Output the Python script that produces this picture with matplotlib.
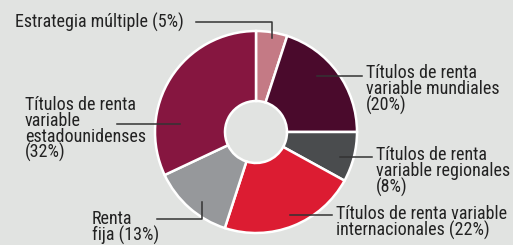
import matplotlib
matplotlib.use("Agg")
import matplotlib.pyplot as plt

plt.rcParams["font.family"] = ["Roboto Condensed", "DejaVu Sans"]

labels = [
    "Estrategia múltiple (5%)",
    "Títulos de renta\nvariable mundiales\n(20%)",
    "Títulos de renta\nvariable regionales\n(8%)",
    "Títulos de renta variable\ninternacionales (22%)",
    "Renta\nfija (13%)",
    "Títulos de renta\nvariable\nestadounidenses\n(32%)",
]
shares = [5, 20, 8, 22, 13, 32]
colors = ["#c47a85", "#4a0a2c", "#4a4c4e", "#dc1c32", "#96989b", "#861640"]

BG = "#e1e3e1"
fig = plt.figure(figsize=(5.13, 2.45), dpi=100, facecolor=BG)
ax = fig.add_axes([0, 0, 1, 1])
ax.set_facecolor(BG)

cx, cy, R = 256, 132, 101
# inverted y axis: startangle -90 is the top, counterclock runs clockwise on screen
ax.pie(shares, colors=colors, startangle=-90, counterclock=True,
       center=(cx, cy), radius=R, frame=True,
       wedgeprops=dict(width=R - 31, edgecolor="white", linewidth=1.8))
ax.set_xlim(0, 513)
ax.set_ylim(245, 0)
ax.set_aspect("equal")
ax.axis("off")

lk = dict(color="#333333", lw=1.1)
tk = dict(fontsize=13.0, color="#222222", linespacing=0.84)

# leaders and labels (pixel layout)
ax.plot([196, 272, 272], [22, 22, 38], **lk)
ax.text(15, 22, labels[0], ha="left", va="center", **tk)

ax.plot([317, 362], [76, 76], **lk)
ax.text(366, 64, labels[1], ha="left", va="top", **tk)

ax.plot([340, 372], [157, 157], **lk)
ax.text(376, 146, labels[2], ha="left", va="top", **tk)

ax.plot([290, 332], [215, 215], **lk)
ax.text(336, 205, labels[3], ha="left", va="top", **tk)

ax.plot([157, 202, 202], [219, 219, 202], **lk)
ax.text(92, 210, labels[4], ha="left", va="top", **tk)

ax.plot([117, 180], [124, 124], **lk)
ax.text(25, 96, labels[5], ha="left", va="top", **tk)

fig.savefig("out.png", dpi=100, facecolor=BG)
